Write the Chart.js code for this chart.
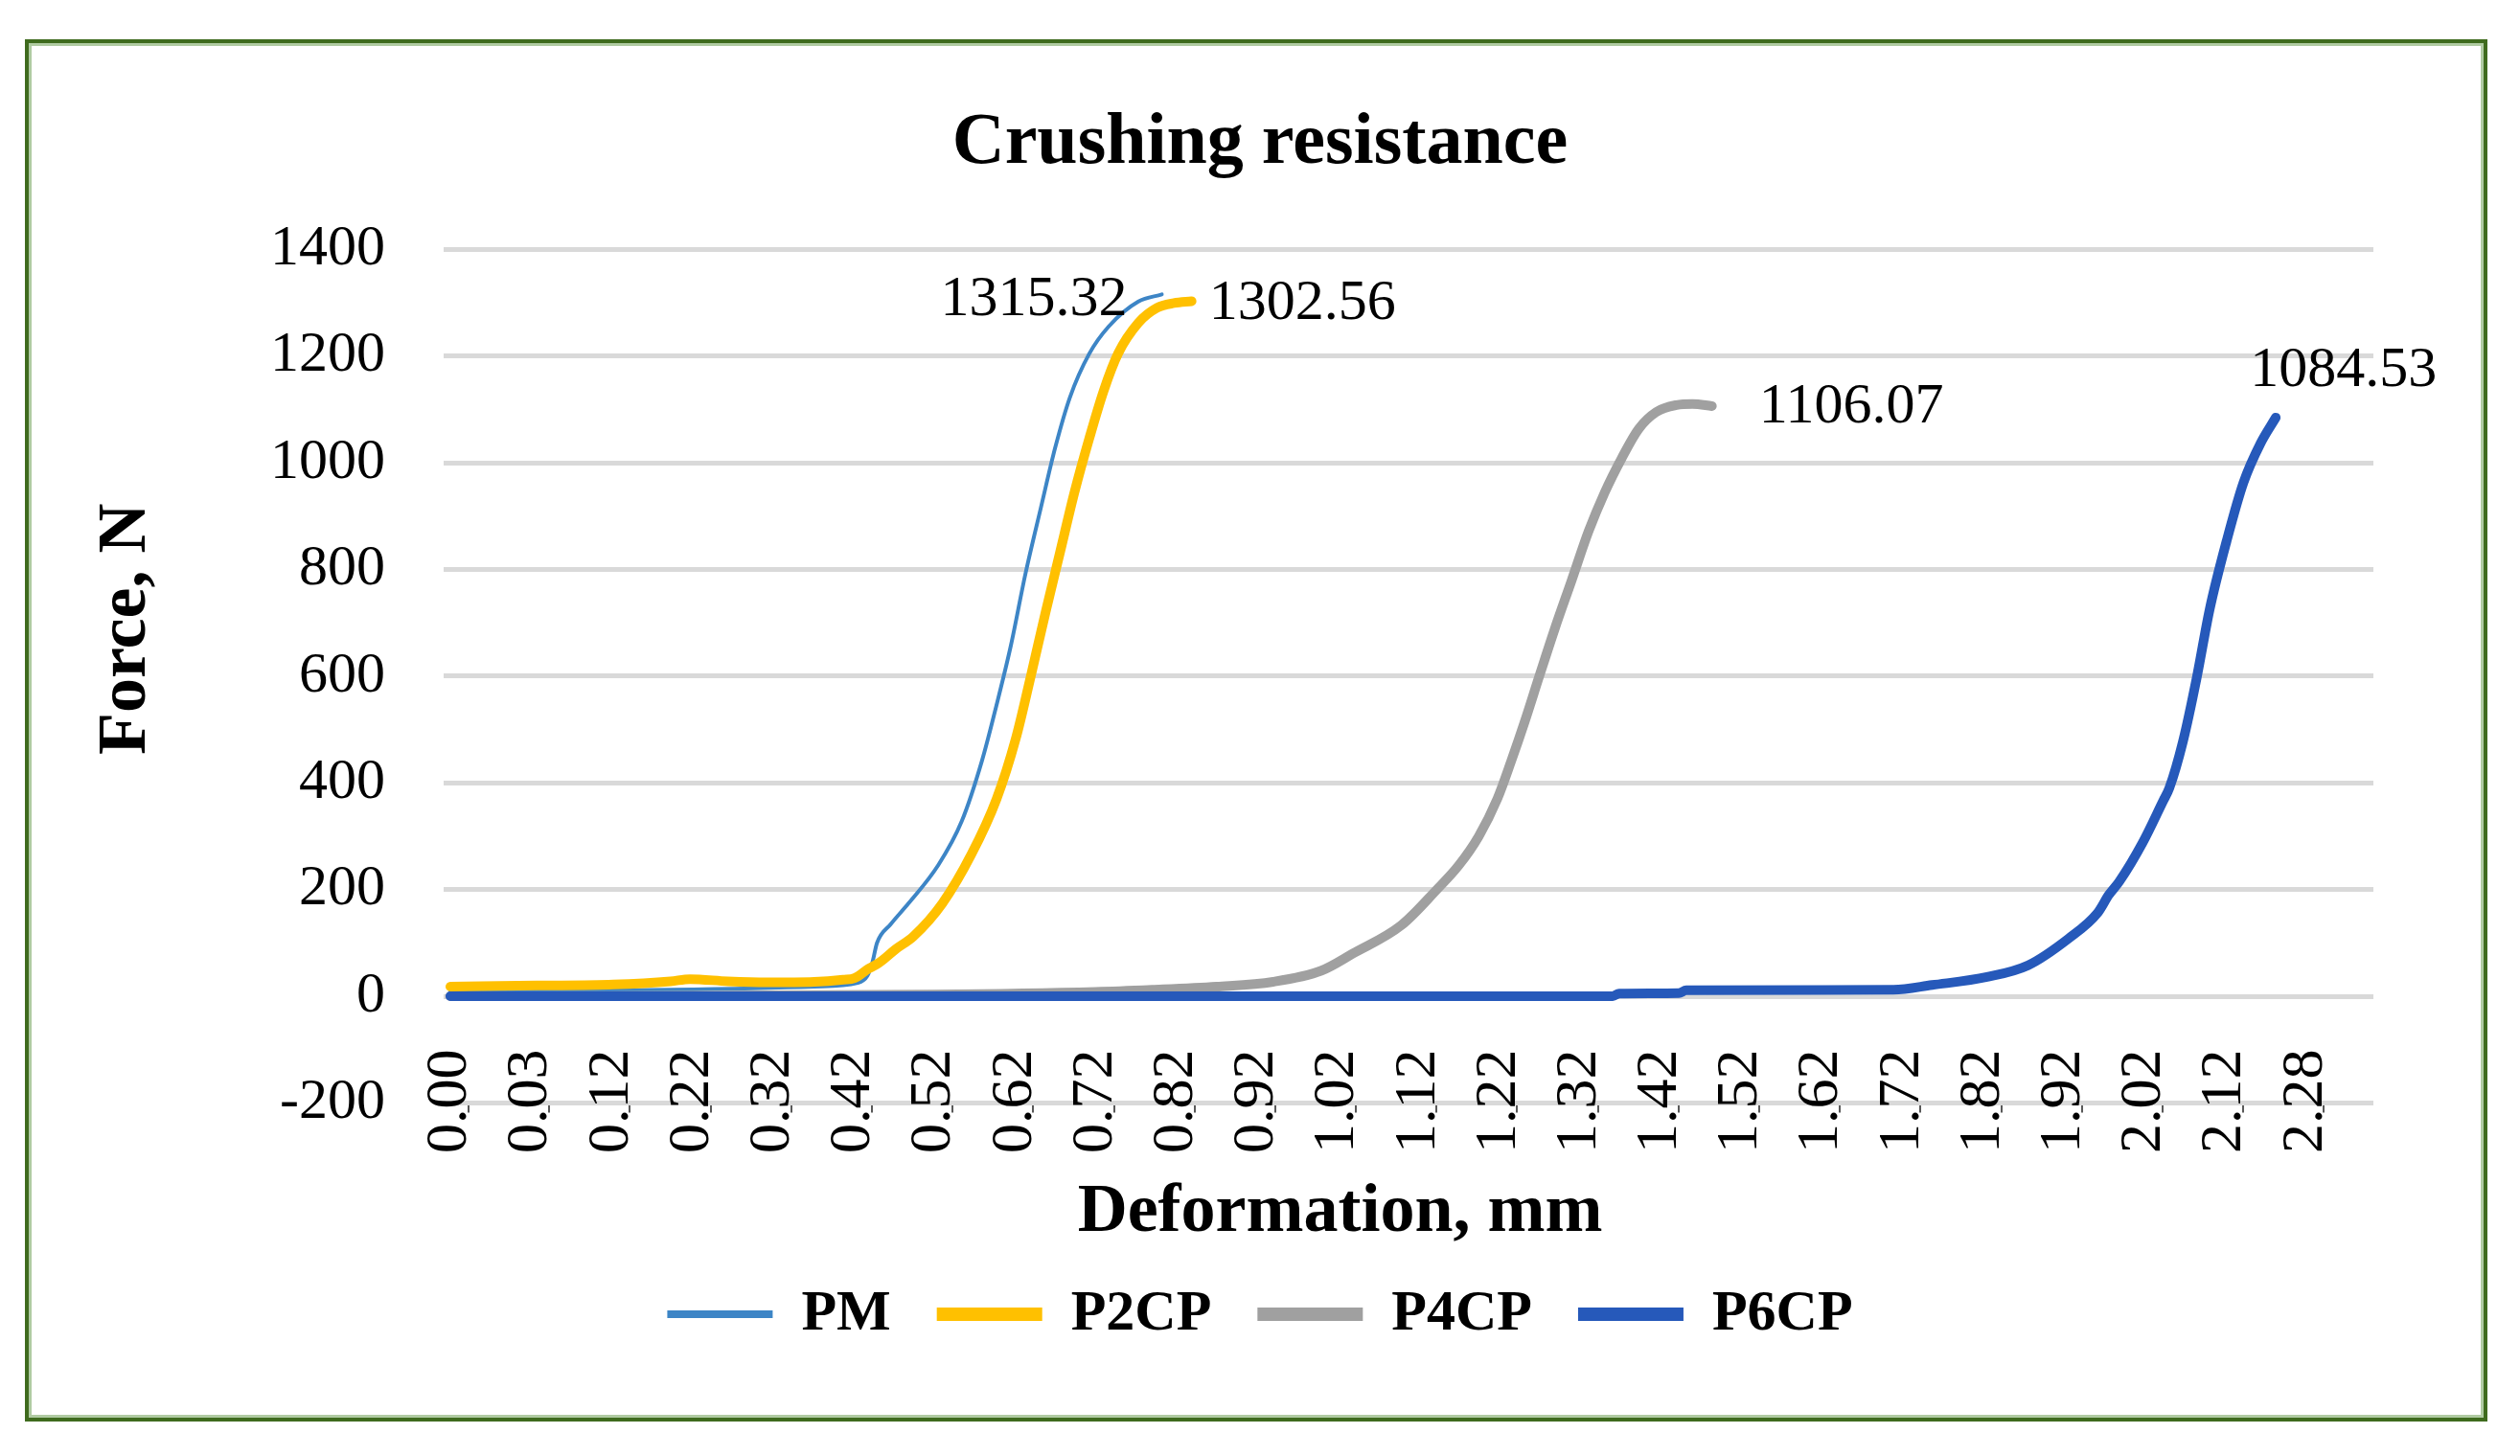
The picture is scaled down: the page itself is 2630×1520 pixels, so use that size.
<!DOCTYPE html>
<html>
<head>
<meta charset="utf-8">
<script src="https://cdn.jsdelivr.net/npm/chart.js@4.4.1/dist/chart.umd.min.js"></script>
<style>
  html, body { margin: 0; padding: 0; background: #fff; }
</style>
</head>
<body>
<canvas id="grafico" width="2630" height="1520"></canvas>
<script>
// Etiquetas del eje X (eje de categorías, espaciado uniforme)
const xLabels = ['0.00', '0.03', '0.12', '0.22', '0.32', '0.42', '0.52', '0.62', '0.72', '0.82',
  '0.92', '1.02', '1.12', '1.22', '1.32', '1.42', '1.52', '1.62', '1.72', '1.82',
  '1.92', '2.02', '2.12', '2.28'];
const yTicks = [-200, 0, 200, 400, 600, 800, 1000, 1200, 1400];
const seriesNames = ['PM', 'P2CP', 'P4CP', 'P6CP'];

// Posición a lo largo del eje (en unidades de etiqueta) y fuerza, N
const pmPos = [0, 2.73, 4.51, 5.05, 5.17, 5.23, 5.29, 5.46, 5.68, 6.05, 6.34, 6.59, 6.77, 6.95, 7.13, 7.32, 7.50, 7.68, 7.92, 8.16, 8.53, 8.82];
const pmForce = [8, 12, 18, 25, 38, 62, 100, 135, 174, 246, 328, 441, 545, 658, 792, 915, 1029, 1122, 1204, 1255, 1302, 1315.32];

const p2Pos = [0, 1.07, 2.02, 2.73, 2.97, 3.44, 3.92, 4.51, 4.87, 5.01, 5.19, 5.31, 5.52, 5.74, 6.10, 6.46, 6.77, 7.01, 7.19, 7.38, 7.56, 7.74, 7.92, 8.10, 8.28, 8.53, 8.76, 8.97, 9.19];
const p2Force = [18, 20, 22, 28, 32, 28, 26, 27, 31, 34, 52, 62, 88, 112, 174, 266, 369, 483, 596, 720, 833, 946, 1045, 1135, 1205, 1262, 1290, 1299, 1302.56];

const p4Pos = [0, 6, 8, 8.7, 9.5, 10.2, 10.8, 11.19, 11.79, 12.23, 12.50, 12.75, 12.98, 13.15, 13.32, 13.50, 13.69, 13.90, 14.11, 14.31, 14.52, 14.73, 14.95, 15.20, 15.40, 15.64];
const p4Force = [0, 3, 8, 12, 18, 27, 48, 80, 133, 200, 245, 300, 370, 440, 515, 600, 688, 779, 871, 944, 1008, 1063, 1095, 1108, 1110, 1106.07];

const p6Pos = [0, 14.41, 14.49, 15.23, 15.32, 17.89, 18.37, 19.05, 19.56, 20.06, 20.42, 20.56, 20.69, 20.98, 21.23, 21.31, 21.48, 21.65, 21.81, 22.02, 22.23, 22.44, 22.63];
const p6Force = [0, 0, 5, 6, 11, 12, 21, 36, 58, 108, 156, 190, 215, 288, 365, 390, 478, 597, 725, 853, 963, 1036, 1084.53];

const serif = "'Liberation Serif', 'Times New Roman', serif";
const xMin = -0.083;
const xMax = 23.84;

function puntos(pos, force) {
  return pos.map((p, i) => ({ x: p, y: force[i] }));
}

// Desplazamiento de las etiquetas de valor final
const etiquetaFinal = [
  { dx: -36, dy: 6, align: 'right' },
  { dx: 18, dy: 3, align: 'left' },
  { dx: 49, dy: 1, align: 'left' },
  { dx: -27, dy: -49, align: 'left' }
];

// Marco verde y fondo blanco
const marco = {
  id: 'marco',
  beforeDraw(chart) {
    const ctx = chart.ctx;
    ctx.save();
    ctx.fillStyle = '#fff';
    ctx.fillRect(0, 0, chart.width, chart.height);
    ctx.lineWidth = 4;
    ctx.strokeStyle = '#3f6b1e';
    ctx.strokeRect(28, 43, 2566, 1439);
    ctx.lineWidth = 3;
    ctx.strokeStyle = '#b0cba2';
    ctx.strokeRect(31.5, 46.5, 2559, 1432);
    ctx.restore();
  }
};

// Títulos de los ejes y valores finales
const textos = {
  id: 'textos',
  afterDraw(chart) {
    const ctx = chart.ctx;
    const { x, y } = chart.scales;
    const area = chart.chartArea;
    ctx.save();
    ctx.fillStyle = '#000';
    ctx.textBaseline = 'middle';
    ctx.textAlign = 'center';
    ctx.font = 'bold 72px ' + serif;
    ctx.fillText('Deformation, mm', x.getPixelForValue(11.03), area.bottom + 115);
    ctx.save();
    ctx.translate(y.left - 21, y.getPixelForValue(688));
    ctx.rotate(-Math.PI / 2);
    ctx.fillText('Force, N', 0, 0);
    ctx.restore();

    ctx.font = '60px ' + serif;
    chart.data.datasets.forEach((ds, i) => {
      const meta = chart.getDatasetMeta(i);
      const last = meta.data[meta.data.length - 1];
      const val = ds.data[ds.data.length - 1].y;
      const o = etiquetaFinal[i];
      ctx.textAlign = o.align;
      ctx.fillText(val.toFixed(2), last.x + o.dx, last.y + o.dy);
    });
    ctx.restore();
  }
};

function serie(label, pos, force, color, width, legendWidth, order) {
  return {
    label,
    data: puntos(pos, force),
    borderColor: color,
    backgroundColor: color,
    borderWidth: width,
    pointRadius: 0,
    pointStyle: 'line',
    pointBorderColor: color,
    pointBorderWidth: legendWidth,
    cubicInterpolationMode: 'monotone',
    borderCapStyle: 'round',
    borderJoinStyle: 'round',
    order
  };
}

new Chart(document.getElementById('grafico'), {
  type: 'line',
  data: {
    datasets: [
      serie(seriesNames[0], pmPos, pmForce, '#3d85c6', 4, 8, 4),
      serie(seriesNames[1], p2Pos, p2Force, '#ffc000', 10, 14, 3),
      serie(seriesNames[2], p4Pos, p4Force, '#a0a0a0', 10, 14, 2),
      serie(seriesNames[3], p6Pos, p6Force, '#2659ba', 10, 14, 1)
    ]
  },
  plugins: [marco, textos],
  options: {
    responsive: false,
    animation: false,
    devicePixelRatio: 1,
    layout: { padding: { left: 153, right: 153, top: 0, bottom: 108 } },
    plugins: {
      title: {
        display: true,
        text: 'Crushing resistance',
        color: '#000',
        font: { family: serif, size: 76, weight: 'bold', lineHeight: 1.2 },
        padding: { top: 105, bottom: 64 }
      },
      legend: {
        position: 'bottom',
        labels: {
          usePointStyle: true,
          pointStyleWidth: 110,
          padding: 48,
          color: '#000',
          font: { family: serif, size: 60, weight: 'bold' },
          sort: (a, b) => a.datasetIndex - b.datasetIndex
        }
      },
      tooltip: { enabled: false }
    },
    scales: {
      // eje de datos: reserva el espacio inferior y dibuja las marcas
      x: {
        type: 'linear',
        position: 'bottom',
        min: xMin,
        max: xMax,
        afterBuildTicks: s => { s.ticks = xLabels.map((_, k) => ({ value: k + 0.226 })); },
        afterFit: s => { s.height = 142.6; },
        grid: { drawOnChartArea: false, drawTicks: true, tickLength: 10, color: '#595959', lineWidth: 2 },
        border: { display: false },
        ticks: { display: false }
      },
      // etiquetas del eje X, ancladas en la línea de -200
      xl: {
        type: 'linear',
        position: { y: -200 },
        min: xMin,
        max: xMax,
        afterBuildTicks: s => { s.ticks = xLabels.map((_, k) => ({ value: k })); },
        grid: { display: false },
        border: { display: false },
        ticks: {
          autoSkip: false,
          minRotation: 90,
          maxRotation: 90,
          padding: -64,
          color: '#000',
          font: { family: serif, size: 62 },
          callback: v => xLabels[v]
        }
      },
      y: {
        min: yTicks[0],
        max: yTicks[yTicks.length - 1],
        afterFit: s => { s.width = 310; },
        afterBuildTicks: s => { s.ticks = yTicks.map(v => ({ value: v })); },
        grid: { color: '#d9d9d9', lineWidth: 5, drawTicks: false },
        border: { display: false },
        ticks: {
          padding: 61,
          color: '#000',
          font: { family: serif, size: 60 },
          callback: v => String(v)
        }
      }
    }
  }
});
</script>
</body>
</html>
